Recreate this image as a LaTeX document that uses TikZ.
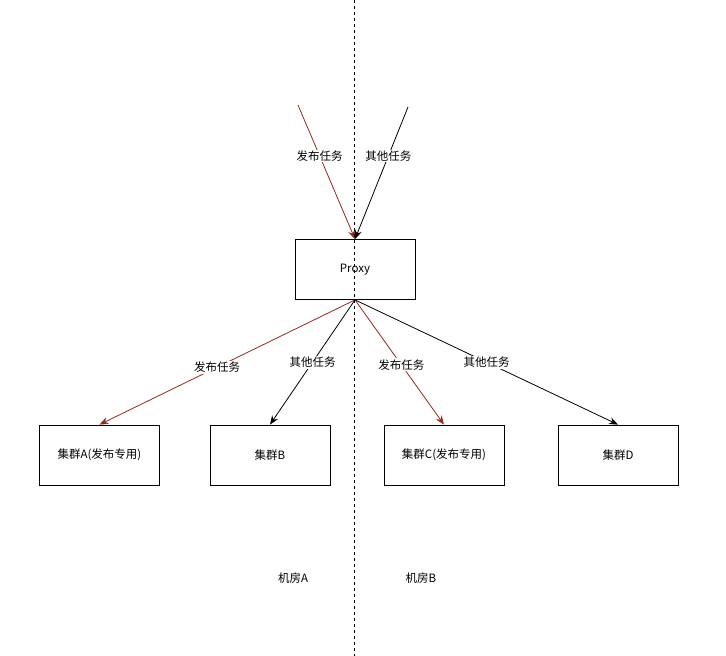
\documentclass[tikz,border=0pt]{standalone}
\usepackage{fontspec}
\setmainfont{Noto Sans CJK SC}
\usetikzlibrary{arrows.meta}
\definecolor{myred}{RGB}{150,40,30}
\tikzset{
  box/.style={draw=black, line width=0.8pt, minimum width=120pt, minimum height=60pt, inner sep=0pt, font=\fontsize{11.5pt}{13pt}\selectfont},
  conn/.style={line width=0.8pt, -{Stealth[length=9pt,width=7pt]}},
  redconn/.style={conn, draw=myred},
  lbl/.style={fill=white, inner sep=1pt, font=\fontsize{11.5pt}{13pt}\selectfont},
  txt/.style={inner sep=0pt, font=\fontsize{11.5pt}{13pt}\selectfont}
}
\begin{document}
\begin{tikzpicture}[x=1pt,y=-1pt]
\useasboundingbox (0,0) rectangle (726,656);
\node[box] (proxy) at (355,269.5) {Proxy};
\node[box] (a) at (99.5,455) {集群A(发布专用)};
\node[box] (b) at (270,455) {集群B};
\node[box] (c) at (444,455) {集群C(发布专用)};
\node[box] (d) at (618,455) {集群D};
\coordinate (srcr) at (298,105);
\coordinate (srcb) at (408,107);
\coordinate (ltop) at (354,0);
\coordinate (lbot) at (354,656);
\draw[redconn] (srcr) -- node[lbl, pos=0.38] {发布任务} (proxy.north);
\draw[conn] (srcb) -- node[lbl, pos=0.37] {其他任务} (proxy.north);
\draw[redconn] (proxy.south) -- node[lbl, pos=0.54] {发布任务} (a.north);
\draw[conn] (proxy.south) -- node[lbl, pos=0.5] {其他任务} (b.north);
\draw[redconn] (proxy.south) -- node[lbl, pos=0.52] {发布任务} (c.north);
\draw[conn] (proxy.south) -- node[lbl, pos=0.5] {其他任务} (d.north);
\draw[line width=0.8pt, dash pattern=on 3pt off 3pt] (ltop) -- (lbot);
\node[txt] (ra) at (293,578) {机房A};
\node[txt] (rb) at (421,578) {机房B};
\end{tikzpicture}
\end{document}
